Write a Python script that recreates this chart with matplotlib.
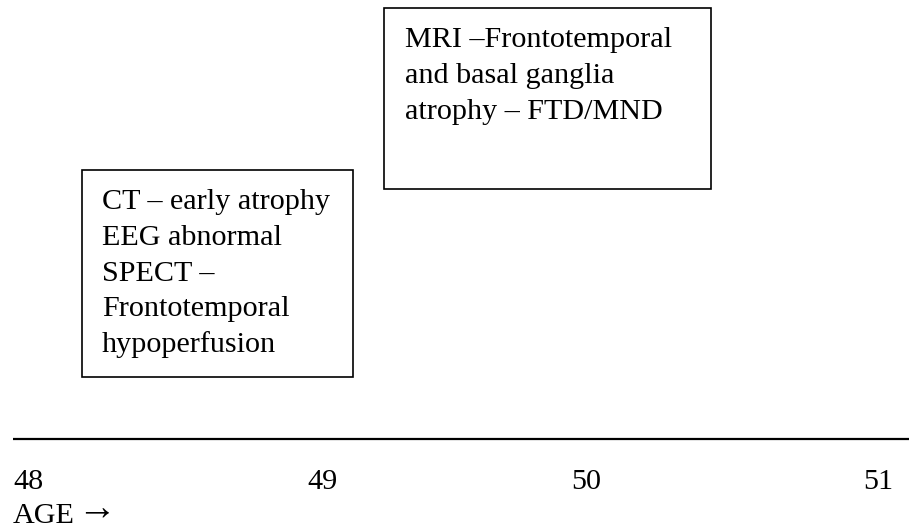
import matplotlib
matplotlib.use("Agg")
import matplotlib.pyplot as plt
from matplotlib.patches import Rectangle

plt.rcParams['font.family'] = ['Liberation Serif', 'DejaVu Serif']

ages = ["48", "49", "50", "51"]
axis_label = "AGE"
axis_arrow = "\u2192"
box_texts = [
    ["MRI \u2013Frontotemporal", "and basal ganglia", "atrophy \u2013 FTD/MND"],
    ["CT \u2013 early atrophy", "EEG abnormal", "SPECT \u2013", "Frontotemporal", "hypoperfusion"],
]

# layout (pixel units)
age_x = [13, 307, 571, 863]
boxes = [(384, 8, 327, 181), (82, 170, 271, 207)]
first_baseline = [47, 209]
text_left = [405, 102]
line_step = 35.8
FS = 21.7

fig = plt.figure(figsize=(9.09, 5.31), dpi=100)
ax = fig.add_axes([0, 0, 1, 1])
ax.set_xlim(0, 909)
ax.set_ylim(531, 0)
ax.axis('off')

for (x, y, w, h), lines, fb, tl in zip(boxes, box_texts, first_baseline, text_left):
    ax.add_patch(Rectangle((x, y), w, h, fill=False, edgecolor='black', linewidth=1.2))
    for i, t in enumerate(lines):
        ax.text(tl, fb + i * line_step, t, fontsize=FS, va='baseline', ha='left', color='black')

ax.plot([13, 909], [438.5, 438.5], color='black', linewidth=1.6, solid_capstyle='butt')

for xx, lab in zip(age_x, ages):
    ax.text(xx, 489, lab, fontsize=FS, va='baseline', ha='left')
ax.text(13, 523, axis_label, fontsize=FS, va='baseline', ha='left')
ax.text(77, 520, axis_arrow, fontsize=28, va='baseline', ha='left')

fig.savefig("out.png", dpi=100)
